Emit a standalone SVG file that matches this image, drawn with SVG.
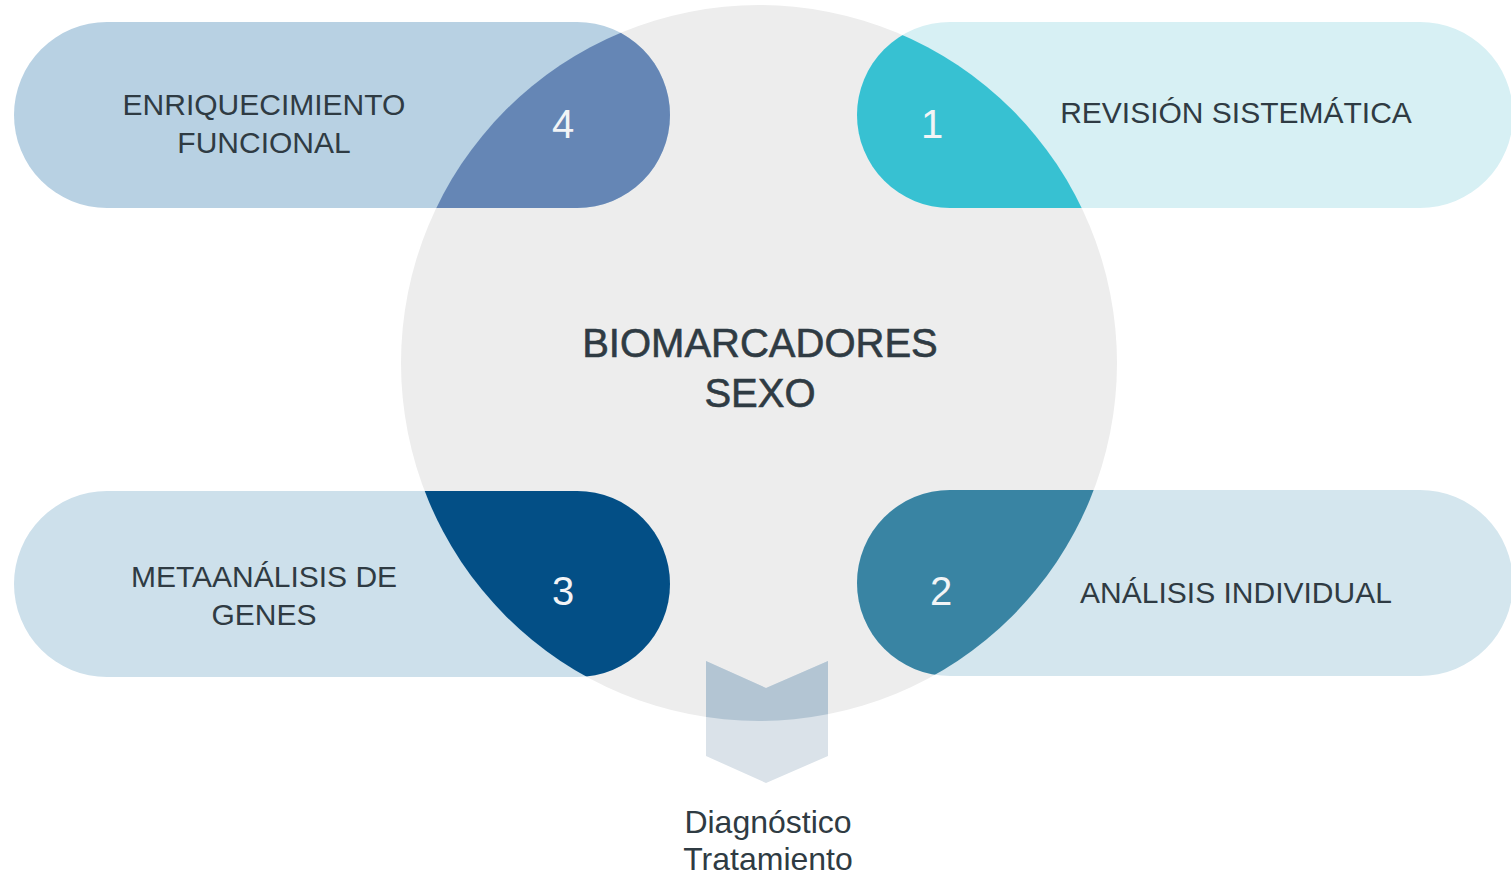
<svg xmlns="http://www.w3.org/2000/svg" width="1511" height="876" viewBox="0 0 1511 876">
<style>
.lbl{font-family:"Liberation Sans",Arial,sans-serif;fill:#2f3b43;text-anchor:middle}
.num{font-family:"Liberation Sans",Arial,sans-serif;fill:#f2f4f6;text-anchor:middle;font-size:40px}
</style>
<defs>
<clipPath id="circ"><circle cx="759" cy="363" r="358"/></clipPath>
</defs>
<rect width="1511" height="876" fill="#ffffff"/>
<g id="center">
<circle cx="759" cy="363" r="358" fill="#ededed"/>
</g>
<g id="node4">
<rect x="14" y="22" width="656" height="186" rx="93" fill="#b8d1e3"/>
<rect x="14" y="22" width="656" height="186" rx="93" fill="#6586b5" clip-path="url(#circ)"/>
<text class="lbl" font-size="30" x="264" y="115">ENRIQUECIMIENTO</text>
<text class="lbl" font-size="30" x="264" y="153">FUNCIONAL</text>
<text class="num" x="563" y="138">4</text>
</g>
<g id="node1">
<rect x="857" y="22" width="656" height="186" rx="93" fill="#d7f0f4"/>
<rect x="857" y="22" width="656" height="186" rx="93" fill="#37c1d2" clip-path="url(#circ)"/>
<text class="lbl" font-size="30" x="1236" y="123">REVISIÓN SISTEMÁTICA</text>
<text class="num" x="932" y="138">1</text>
</g>
<g id="node3">
<rect x="14" y="491" width="656" height="186" rx="93" fill="#cde0eb"/>
<rect x="14" y="491" width="656" height="186" rx="93" fill="#034f86" clip-path="url(#circ)"/>
<text class="lbl" font-size="30" x="264" y="587">METAANÁLISIS DE</text>
<text class="lbl" font-size="30" x="264" y="625">GENES</text>
<text class="num" x="563" y="605">3</text>
</g>
<g id="node2">
<rect x="857" y="490" width="656" height="186" rx="93" fill="#d4e6ee"/>
<rect x="857" y="490" width="656" height="186" rx="93" fill="#3984a3" clip-path="url(#circ)"/>
<text class="lbl" font-size="30" x="1236" y="603">ANÁLISIS INDIVIDUAL</text>
<text class="num" x="941" y="605">2</text>
</g>
<g id="title">
<text class="lbl" font-size="40" x="760" y="357" stroke="#2f3b43" stroke-width="0.6">BIOMARCADORES</text>
<text class="lbl" font-size="40" x="760" y="407" stroke="#2f3b43" stroke-width="0.6">SEXO</text>
</g>
<g id="connectors">
<polygon points="706,661 766,688 828,661 828,756 766,783 706,756" fill="#dae2e9"/>
<polygon points="706,661 766,688 828,661 828,756 766,783 706,756" fill="#b3c5d3" clip-path="url(#circ)"/>
</g>
<g id="outcome">
<text class="lbl" font-size="32" x="768" y="833">Diagnóstico</text>
<text class="lbl" font-size="32" x="768" y="870">Tratamiento</text>
</g>
</svg>
